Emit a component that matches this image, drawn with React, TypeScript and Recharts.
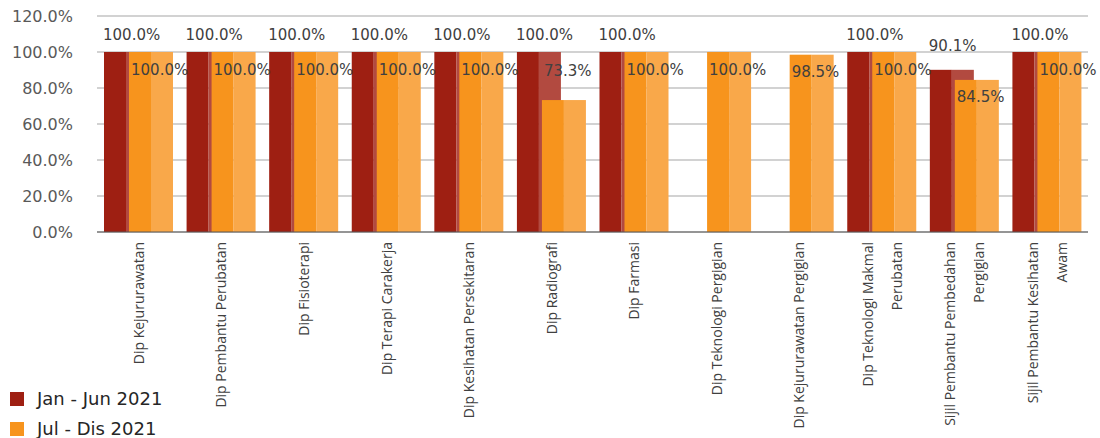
import React from "react";
import { BarChart, Bar, XAxis, YAxis, CartesianGrid, LabelList } from "recharts";

// Programme names (multi-line names are split with "\n")
const programmes: string[] = [
  "Dip Kejururawatan",
  "Dip Pembantu Perubatan",
  "Dip Fisioterapi",
  "Dip Terapi Carakerja",
  "Dip Kesihatan Persekitaran",
  "Dip Radiografi",
  "Dip Farmasi",
  "Dip Teknologi Pergigian",
  "Dip Kejururawatan Pergigian",
  "Dip Teknologi Makmal\nPerubatan",
  "Sijil Pembantu Pembedahan\nPergigian",
  "Sijil Pembantu Kesihatan\nAwam",
];

// Percentages per half-year (null = no intake in that period)
const janJun2021: (number | null)[] = [100, 100, 100, 100, 100, 100, 100, null, null, 100, 90.1, 100];
const julDis2021: (number | null)[] = [100, 100, 100, 100, 100, 73.3, 100, 100, 98.5, 100, 84.5, 100];

const yTicks: number[] = [0, 20, 40, 60, 80, 100, 120];

const seriesNames = ["Jan - Jun 2021", "Jul - Dis 2021"];

const data = programmes.map((name, i) => ({
  name,
  h1: janJun2021[i],
  h2: julDis2021[i],
}));

const RED_DARK = "#9E1F12";
const RED_LIGHT = "#B24A40";
const ORANGE_DARK = "#F7941D";
const ORANGE_LIGHT = "#F9A84A";

const FONT = "'DejaVu Sans', sans-serif";
const CAT_FONT = "'Open Sans', sans-serif";

const fmt = (v: number) => `${v.toFixed(1)}%`;

// Two-tone bar: darker left half, lighter right half
const makeShape = (dark: string, light: string) => (props: any) => {
  const { x, y, width, height } = props;
  if (height == null || height <= 0) return null;
  const half = width / 2;
  return (
    <g>
      <rect x={x} y={y} width={half} height={height} fill={dark} />
      <rect x={x + half} y={y} width={width - half} height={height} fill={light} />
    </g>
  );
};

const RedShape = makeShape(RED_DARK, RED_LIGHT);
const OrangeShape = makeShape(ORANGE_DARK, ORANGE_LIGHT);

const RedLabel = (props: any) => {
  const { x, y, value } = props;
  if (value == null) return null;
  const baseY = value >= 100 ? y - 12 : y - 19;
  return (
    <text x={x - 1} y={baseY} fontFamily={FONT} fontSize={15} fill="#404040" textAnchor="start">
      {fmt(value)}
    </text>
  );
};

const OrangeLabel = (props: any) => {
  const { x, y, value } = props;
  if (value == null) return null;
  const baseY = value >= 80 ? y + 22.5 : y - 24.5;
  return (
    <text x={x + 2} y={baseY} fontFamily={FONT} fontSize={15} fill="#404040" textAnchor="start">
      {fmt(value)}
    </text>
  );
};

const YTick = (props: any) => {
  const { x, y, payload } = props;
  return (
    <text x={x} y={y} fontFamily={FONT} fontSize={16} fill="#595959" textAnchor="end" dominantBaseline="central">
      {fmt(payload.value)}
    </text>
  );
};

const XTick = (props: any) => {
  const { x, y, payload } = props;
  const lines = String(payload.value).split("\n");
  const spacing = 29;
  const start = -((lines.length - 1) * spacing) / 2;
  return (
    <g transform={`translate(${x},${y})`}>
      {lines.map((line, i) => (
        <text
          key={i}
          transform="rotate(-90)"
          x={-2}
          y={start + i * spacing}
          textAnchor="end"
          dominantBaseline="central"
          fontFamily={CAT_FONT}
          fontSize={14}
          fill="#404040"
        >
          {line}
        </text>
      ))}
    </g>
  );
};

export default function App() {
  return (
    <div style={{ position: "absolute", left: 0, top: 0, width: 1100, height: 438, background: "#fff" }}>
      <BarChart
        width={1100}
        height={438}
        data={data}
        margin={{ top: 16, right: 12, bottom: 0, left: 0 }}
        barSize={44}
        barGap={-19}
      >
        <CartesianGrid vertical={false} stroke="#A6A6A6" strokeWidth={1.2} />
        <YAxis
          width={97}
          domain={[0, 120]}
          ticks={yTicks}
          axisLine={false}
          tickLine={false}
          tickSize={0}
          tickMargin={24}
          tick={<YTick />}
          interval={0}
        />
        <XAxis
          dataKey="name"
          height={206}
          interval={0}
          axisLine={{ stroke: "#595959", strokeWidth: 1.2 }}
          tickLine={false}
          tickSize={0}
          tickMargin={8}
          tick={<XTick />}
        />
        <Bar dataKey="h1" name={seriesNames[0]} fill={RED_DARK} shape={RedShape} isAnimationActive={false}>
          <LabelList dataKey="h1" content={<RedLabel />} />
        </Bar>
        <Bar dataKey="h2" name={seriesNames[1]} fill={ORANGE_DARK} shape={OrangeShape} isAnimationActive={false}>
          <LabelList dataKey="h2" content={<OrangeLabel />} />
        </Bar>
      </BarChart>
      <div
        style={{
          position: "absolute",
          left: 10,
          top: 384,
          fontFamily: FONT,
          fontSize: 18,
          color: "#262626",
          lineHeight: "30px",
        }}
      >
        {seriesNames.map((n, i) => (
          <div key={n} style={{ display: "flex", alignItems: "center", height: 30 }}>
            <span
              style={{
                display: "inline-block",
                width: 14,
                height: 14,
                background: i === 0 ? RED_DARK : ORANGE_DARK,
                marginRight: 13,
              }}
            />
            <span>{n}</span>
          </div>
        ))}
      </div>
    </div>
  );
}
